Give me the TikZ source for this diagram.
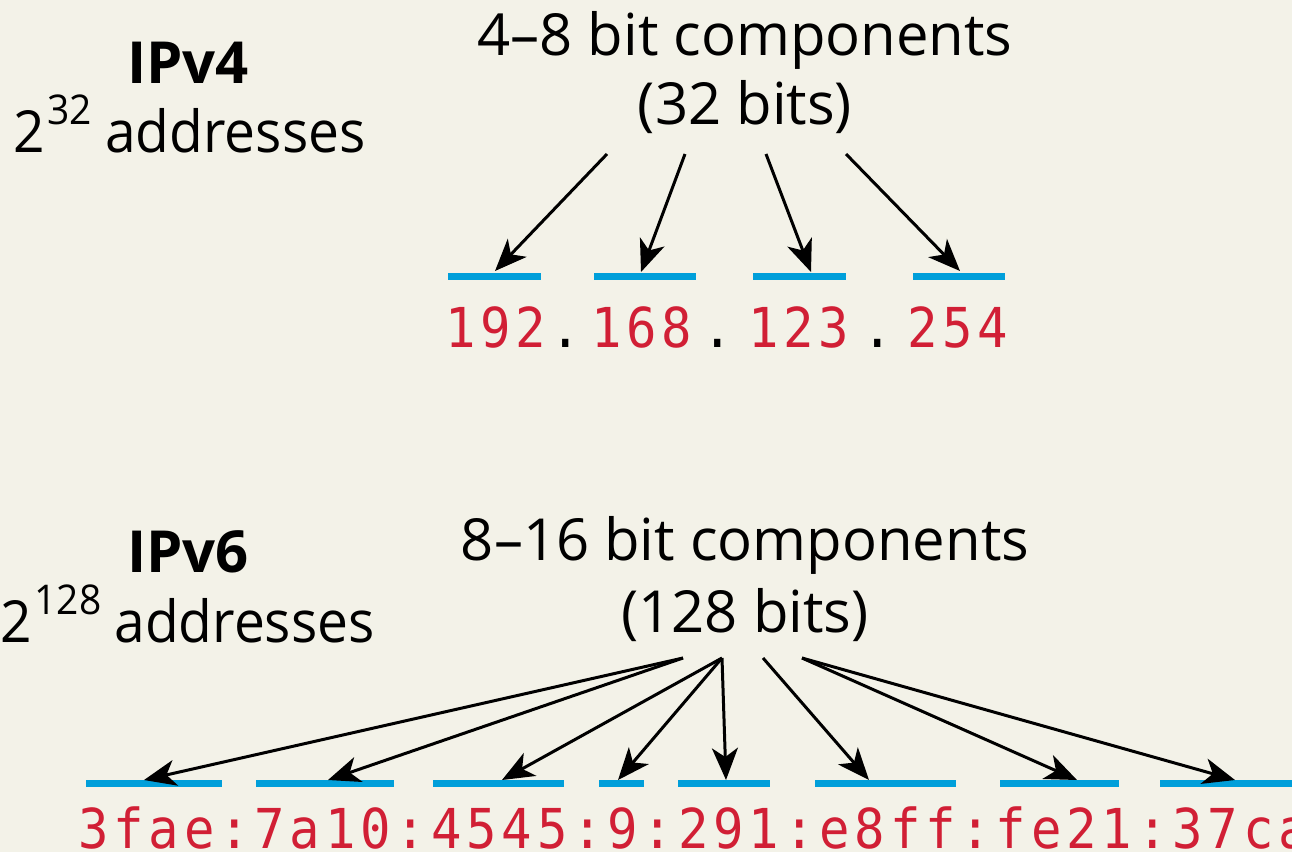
\documentclass[tikz,border=0pt]{standalone}
\usepackage{fontspec}
\setmainfont{Open Sans}
\newfontfamily\monofont[FakeStretch=0.92,LetterSpace=8.8]{DejaVu Sans Mono}
\newfontfamily\narrowfont[FakeStretch=0.95]{Open Sans}
\usetikzlibrary{arrows.meta}
\definecolor{bg}{HTML}{F3F2E8}
\definecolor{segblue}{HTML}{009FDA}
\definecolor{addrred}{HTML}{D11F35}
\newcommand{\supx}[1]{\hspace{3pt}\raisebox{28pt}{\fontsize{41}{44}\selectfont #1}\hspace{13pt}}
\tikzset{
  lbl/.style={inner sep=0pt, anchor=base, font=\fontsize{58}{60}\selectfont},
  cnt/.style={inner sep=0pt, anchor=base west, font=\fontsize{58}{60}\selectfont\narrowfont},
  ttl/.style={inner sep=0pt, anchor=base, font=\fontsize{58}{60}\selectfont\bfseries},
  addr/.style={inner sep=0pt, anchor=base west, text=addrred, font=\fontsize{55}{60}\selectfont\monofont},
  dot/.style={inner sep=0pt, anchor=base, font=\fontsize{55}{60}\selectfont\monofont},
  seg/.style={fill=segblue, inner sep=0pt, minimum height=7pt},
  arr/.style={line width=3pt, -{Stealth[length=32pt,width=26pt,inset=9pt]}, shorten >=0pt}
}
\begin{document}
\begin{tikzpicture}[x=1pt,y=-1pt]
\fill[bg] (0,0) rectangle (1292,852);
\useasboundingbox (0,0) rectangle (1292,852);
% IPv4 headings
\node[ttl] (t4) at (188,83) {IPv4};
\node[cnt] (n4) at (13,152) {2\supx{32}addresses};
\node[lbl] (c4) at (745,55) {4–8 bit components};
\node[lbl] (b4) at (745,124) {(32 bits)};
% IPv4 segments
\node[seg, minimum width=93pt] (s41) at (494.5,276) {};
\node[seg, minimum width=102pt] (s42) at (645,276) {};
\node[seg, minimum width=93pt] (s43) at (799.5,276) {};
\node[seg, minimum width=92pt] (s44) at (959,276) {};
% IPv4 numbers
\node[addr] (a41) at (445,347) {192};
\node[dot] (d41) at (566,347) {.};
\node[addr] (a42) at (591,347) {168};
\node[dot] (d42) at (718,347) {.};
\node[addr] (a43) at (748,347) {123};
\node[dot] (d43) at (878,347) {.};
\node[addr] (a44) at (907,347) {254};
% IPv4 arrows
\coordinate (p41) at (607,154);
\coordinate (p42) at (685,154);
\coordinate (p43) at (766,154);
\coordinate (p44) at (846,154);
\coordinate (q41) at (495,271);
\coordinate (q42) at (641,272);
\coordinate (q43) at (811,272);
\coordinate (q44) at (960,271);
\draw[arr] (p41) -- (q41);
\draw[arr] (p42) -- (q42);
\draw[arr] (p43) -- (q43);
\draw[arr] (p44) -- (q44);
% IPv6 headings
\node[ttl] (t6) at (188,572) {IPv6};
\node[cnt] (n6) at (0,642) {2\supx{128}addresses};
\node[lbl] (c6) at (745,560) {8–16 bit components};
\node[lbl] (b6) at (745,632) {(128 bits)};
% IPv6 segments
\node[seg, minimum width=136pt] (s61) at (154,783) {};
\node[seg, minimum width=138pt] (s62) at (325,783) {};
\node[seg, minimum width=131pt] (s63) at (498.5,783) {};
\node[seg, minimum width=45pt] (s64) at (621.5,783) {};
\node[seg, minimum width=92pt] (s65) at (724,783) {};
\node[seg, minimum width=141pt] (s66) at (885.5,783) {};
\node[seg, minimum width=119pt] (s67) at (1059.5,783) {};
\node[seg, minimum width=132pt] (s68) at (1226,783) {};
% IPv6 address
\node[addr] (a6) at (78,848) {3fae:7a10:4545:9:291:e8ff:fe21:37ca};
% IPv6 arrows
\coordinate (p61) at (683,658);
\coordinate (p62) at (722,658);
\coordinate (p63) at (763,658);
\coordinate (p64) at (802,658);
\coordinate (q61) at (144,780);
\coordinate (q62) at (328,780);
\coordinate (q63) at (502,780);
\coordinate (q64) at (618,780);
\coordinate (q65) at (726,780);
\coordinate (q66) at (869,780);
\coordinate (q67) at (1077,780);
\coordinate (q68) at (1235,780);
\draw[arr] (p61) -- (q61);
\draw[arr] (p61) -- (q62);
\draw[arr] (p62) -- (q63);
\draw[arr] (p62) -- (q64);
\draw[arr] (p62) -- (q65);
\draw[arr] (p63) -- (q66);
\draw[arr] (p64) -- (q67);
\draw[arr] (p64) -- (q68);
\end{tikzpicture}
\end{document}
